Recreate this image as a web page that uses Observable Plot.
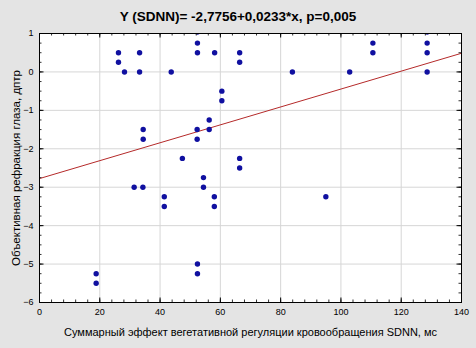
<!DOCTYPE html>
<html>
<head>
<meta charset="utf-8">
<script src="https://cdn.jsdelivr.net/npm/d3@7"></script>
<script src="https://cdn.jsdelivr.net/npm/@observablehq/plot@0.6"></script>
<style>
  html, body { margin: 0; padding: 0; background: #e4e4e4; }
  #title { width: 476px; height: 25px; text-align: center; font: bold 13.5px "Liberation Sans", Arial, sans-serif; line-height: 34px; color: #000; }
  #chart svg { display: block; }
</style>
</head>
<body>
<div id="title">Y (SDNN)= -2,7756+0,0233*x, p=0,005</div>
<div id="chart"></div>
<script>
const sdnn = [26.2, 33.2, 26.2, 28.2, 33.2, 43.7, 34.4, 34.4, 47.4, 52.4, 52.4, 58.1, 66.4, 66.4, 83.9, 60.5, 60.5, 56.3, 52.3, 56.3, 52.3, 66.4, 110.6, 110.6, 128.6, 128.6, 128.6, 102.9, 31.4, 34.3, 41.4, 41.4, 18.8, 18.8, 66.4, 54.4, 54.4, 58.0, 58.0, 95.0, 52.4, 52.4, 52.4, 128.6];
const refraction = [0.5, 0.5, 0.25, 0, 0, 0, -1.5, -1.75, -2.25, 0.75, 0.5, 0.5, 0.5, 0.25, 0, -0.5, -0.75, -1.25, -1.5, -1.5, -1.75, -2.25, 0.75, 0.5, 0.75, 0.5, 0, 0, -3, -3, -3.25, -3.5, -5.25, -5.5, -2.5, -2.75, -3, -3.25, -3.5, -3.25, -5, -5.25, 1.04, 1.04];
const intercept = -2.7756;
const slope = 0.0233;
const xTicks = [0, 20, 40, 60, 80, 100, 120, 140];
const yTicks = [1, 0, -1, -2, -3, -4, -5, -6];
const xMinor = d3.range(0, 141, 4);
const yMinor = d3.range(-6, 1.01, 0.25);
const xLabel = "Суммарный эффект вегетативной регуляции кровообращения SDNN, мс";
const yLabel = "Объективная рефракция глаза, дптр";

const points = sdnn.map((x, i) => ({x, y: refraction[i]}));
const fit = [0, 140].map(x => ({x, y: intercept + slope * x}));

const font = '"Liberation Sans", Arial, sans-serif';
const xs = 140 / 422, ys = 7 / 269; // data units per pixel
const chart = Plot.plot({
  width: 476,
  height: 323,
  marginTop: 8,
  marginBottom: 46,
  marginLeft: 39,
  marginRight: 15,
  style: {background: "#e4e4e4", fontFamily: font, fontSize: "9px", color: "#000"},
  x: {domain: [0, 140]},
  y: {domain: [-6, 1]},
  marks: [
    Plot.frame({fill: "white", stroke: "none"}),
    Plot.gridX(xTicks, {stroke: "#d6d6d6", strokeOpacity: 1}),
    Plot.gridY(yTicks, {stroke: "#d6d6d6", strokeOpacity: 1}),
    Plot.line(fit, {x: "x", y: "y", stroke: "#b52a2a", strokeWidth: 1}),
    Plot.dot(points, {x: "x", y: "y", r: 2.7, fill: "#1010a0", stroke: "none", clip: true}),
    // inward ticks, bottom & top
    Plot.ruleX(xMinor, {x: d => d, y1: -6, y2: -6 + 2.5 * ys, stroke: "#333"}),
    Plot.ruleX(xMinor, {x: d => d, y1: 1, y2: 1 - 2.5 * ys, stroke: "#333"}),
    Plot.ruleX(xTicks, {x: d => d, y1: -6, y2: -6 + 4.5 * ys, stroke: "#000"}),
    Plot.ruleX(xTicks, {x: d => d, y1: 1, y2: 1 - 4.5 * ys, stroke: "#000"}),
    // inward ticks, left & right
    Plot.ruleY(yMinor, {y: d => d, x1: 0, x2: 2.5 * xs, stroke: "#333"}),
    Plot.ruleY(yMinor, {y: d => d, x1: 140, x2: 140 - 2.5 * xs, stroke: "#333"}),
    Plot.ruleY(yTicks, {y: d => d, x1: 0, x2: 4.5 * xs, stroke: "#000"}),
    Plot.ruleY(yTicks, {y: d => d, x1: 140, x2: 140 - 4.5 * xs, stroke: "#000"}),
    Plot.frame({stroke: "#000", strokeWidth: 1}),
    Plot.axisX(xTicks, {tickSize: 0, tickPadding: 6, fontSize: 9, label: null}),
    Plot.axisY(yTicks, {tickSize: 0, tickPadding: 6, fontSize: 9, label: null}),
    Plot.text([xLabel], {text: d => d, frameAnchor: "bottom", textAnchor: "middle", dy: 33, fontSize: 11, fill: "#000"}),
    Plot.text([yLabel], {text: d => d, frameAnchor: "left", textAnchor: "middle", dx: -23, rotate: -90, fontSize: 11.5, fill: "#000"})
  ]
});
document.getElementById("chart").appendChild(chart);
</script>
</body>
</html>
